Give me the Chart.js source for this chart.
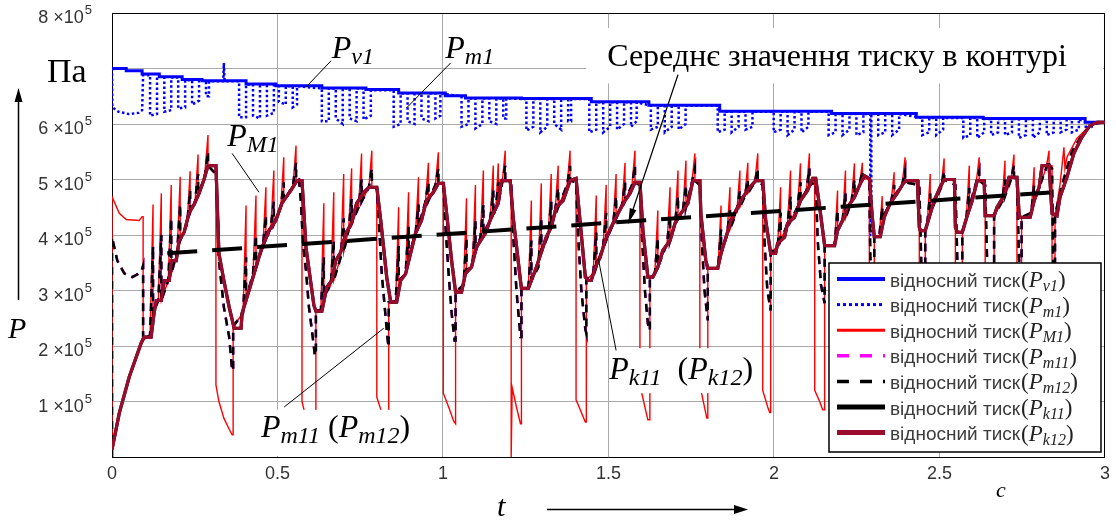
<!DOCTYPE html>
<html lang="uk">
<head>
<meta charset="utf-8">
<title>Тиск у контурі</title>
<script src="https://cdn.jsdelivr.net/npm/chart.js@4.4.1/dist/chart.umd.min.js"></script>
<style>
  html, body { margin: 0; padding: 0; background: #fff; }
  #wrap { position: relative; width: 1116px; height: 520px; }
</style>
</head>
<body>
<div id="wrap"><canvas id="chart" width="1116" height="520"></canvas></div>
<script>
// time in seconds, pressure in units of 10^5 Pa
const yTickLabels = [1, 2, 3, 4, 5, 6, 8];

// P_v1 – stepwise decay of the supply pressure
const pV1 = [[0,7.0],[0.043,6.96],[0.091,6.9],[0.143,6.85],[0.212,6.8],[0.272,6.78],[0.405,6.72],[0.495,6.69],
  [0.634,6.65],[0.767,6.62],[0.866,6.56],[1.007,6.51],[1.068,6.47],[1.237,6.46],[1.448,6.4],[1.622,6.34],
  [1.836,6.23],[2.174,6.19],[2.43,6.12],[2.632,6.1],[2.94,6.03],[3,6.03]];

// P_m1 – fast pulsations just below P_v1
const pm1 = [[0,7.0],[0.001,6.3],[0.02,6.22],[0.05,6.18],[0.08,6.2],[0.091,6.25],[0.094,6.88],
  [0.115,6.88],[0.115,6.15],[0.136,6.18],[0.136,6.86],[0.158,6.84],[0.158,6.22],[0.179,6.25],[0.179,6.84],[0.2,6.84],[0.2,6.28],[0.221,6.3],[0.221,6.79],[0.242,6.79],[0.242,6.35],[0.263,6.42],[0.263,6.79],[0.284,6.77],[0.284,6.5],[0.293,6.5],[0.293,6.77],
  [0.336,6.77],[0.338,7.1],[0.34,6.77],
  [0.384,6.77],[0.384,6.12],[0.405,6.12],[0.405,6.71],[0.426,6.71],[0.426,6.15],[0.447,6.1],[0.447,6.71],[0.468,6.71],[0.468,6.15],[0.489,6.2],[0.489,6.7],
  [0.504,6.68],[0.504,6.4],[0.525,6.35],[0.525,6.68],[0.546,6.68],[0.546,6.3],[0.559,6.35],[0.559,6.68],
  [0.634,6.64],[0.634,6.05],[0.655,6.05],[0.655,6.64],[0.676,6.64],[0.676,6.1],[0.697,6.0],[0.697,6.64],[0.718,6.64],[0.718,6.1],[0.739,6.05],[0.739,6.64],[0.76,6.64],[0.76,6.08],[0.782,6.15],[0.782,6.61],
  [0.851,6.61],[0.851,5.95],[0.872,6.0],[0.872,6.55],[0.893,6.55],[0.893,6.05],[0.914,6.0],[0.914,6.55],[0.935,6.55],[0.935,6.1],[0.956,6.05],[0.956,6.55],[0.977,6.55],[0.977,6.1],[0.992,6.15],[0.992,6.55],
  [1.056,6.5],[1.056,5.95],[1.077,6.0],[1.077,6.46],[1.098,6.46],[1.098,5.92],[1.119,6.0],[1.119,6.46],[1.14,6.46],[1.14,6.05],[1.161,6.0],[1.161,6.46],[1.182,6.46],[1.182,6.1],[1.191,6.1],[1.191,6.46],
  [1.252,6.45],[1.252,5.88],[1.273,5.95],[1.273,6.45],[1.294,6.45],[1.294,5.85],[1.315,5.95],[1.315,6.45],[1.336,6.45],[1.336,6.0],[1.357,5.9],[1.357,6.45],[1.378,6.45],[1.378,6.05],[1.387,6.05],[1.387,6.45],
  [1.442,6.45],[1.442,5.85],[1.463,5.9],[1.463,6.39],[1.484,6.39],[1.484,5.85],[1.505,5.95],[1.505,6.39],[1.526,6.39],[1.526,5.9],[1.547,6.0],[1.547,6.39],[1.568,6.39],[1.568,5.95],[1.585,6.05],[1.585,6.39],
  [1.628,6.33],[1.628,5.9],[1.649,5.95],[1.649,6.33],[1.67,6.33],[1.67,5.85],[1.691,5.95],[1.691,6.33],[1.712,6.33],[1.712,5.9],[1.733,6.0],[1.733,6.33],
  [1.83,6.33],[1.83,5.85],[1.851,5.9],[1.851,6.22],[1.872,6.22],[1.872,5.85],[1.893,5.95],[1.893,6.22],[1.914,6.22],[1.914,5.9],[1.935,5.95],[1.935,6.22],
  [1.999,6.22],[1.999,5.85],[2.02,5.9],[2.02,6.22],[2.041,6.22],[2.041,5.8],[2.062,5.9],[2.062,6.22],[2.083,6.22],[2.083,5.85],[2.104,5.95],[2.104,6.22],
  [2.165,6.22],[2.165,5.8],[2.186,5.85],[2.186,6.18],[2.207,6.18],[2.207,5.8],[2.228,5.9],[2.228,6.18],[2.249,6.18],[2.249,5.8],[2.27,5.85],[2.27,6.18],[2.291,6.18],[2.291,4.0],[2.294,4.0],[2.294,6.18],[2.315,6.18],[2.315,5.8],[2.336,5.85],[2.336,6.18],[2.357,6.18],[2.357,5.8],[2.378,5.9],[2.378,6.18],
  [2.448,6.11],[2.448,5.8],[2.469,5.85],[2.469,6.11],[2.49,6.11],[2.49,5.8],[2.511,5.9],[2.511,6.11],
  [2.572,6.11],[2.572,5.75],[2.593,5.8],[2.593,6.11],[2.614,6.11],[2.614,5.75],[2.635,5.85],[2.635,6.09],[2.656,6.09],[2.656,5.8],[2.677,5.85],[2.677,6.09],[2.698,6.09],[2.698,5.8],[2.719,5.85],[2.719,6.09],
  [2.74,6.09],[2.74,5.75],[2.761,5.8],[2.761,6.09],[2.782,6.09],[2.782,5.75],[2.803,5.85],[2.803,6.09],[2.824,6.09],[2.824,5.8],[2.845,5.85],[2.845,6.09],[2.866,6.09],[2.866,5.85],[2.884,5.9],[2.884,6.09],
  [2.9,6.09],[2.9,5.85],[2.921,5.9],[2.921,6.09],[2.942,6.03],[2.942,5.9],[2.96,5.95],[2.96,6.03],
  [3,6.03]];

// P_M1 – pressure peaks with deep dips once per cycle
const pM1 = [[0,0],[0,4.69],[0.022,4.39],[0.043,4.28],[0.082,4.26],[0.091,4.33],[0.094,4.33],[0.094,2.1],
  [0.115,2.2],[0.124,4.55],[0.124,2.59],[0.14,2.82],[0.149,4.75],[0.149,2.82],[0.17,3.18],[0.179,4.9],[0.179,3.3],[0.197,3.7],[0.206,5.05],[0.206,3.9],[0.227,4.2],[0.236,5.15],[0.236,4.4],[0.251,4.6],[0.26,5.45],[0.26,4.75],[0.279,5.0],[0.29,5.8],[0.29,5.25],
  [0.314,5.25],[0.314,1.3],[0.323,1.0],[0.338,0.7],[0.354,0.5],[0.363,0.4],[0.366,0.4],[0.366,2.35],
  [0.396,2.6],[0.405,4.53],[0.405,2.85],[0.426,3.3],[0.435,4.71],[0.435,3.42],[0.456,3.8],[0.465,4.86],[0.465,3.9],[0.48,4.15],[0.489,5.16],[0.489,4.2],[0.51,4.5],[0.519,5.4],[0.519,4.6],[0.547,4.9],[0.556,5.61],[0.556,4.98],
  [0.574,4.98],[0.574,1.0],[0.586,0.7],[0.61,0.5],[0.616,0.5],[0.616,2.63],
  [0.631,2.65],[0.64,4.57],[0.64,2.9],[0.661,3.1],[0.67,4.77],[0.67,3.18],[0.691,3.6],[0.7,5.1],[0.7,3.69],[0.715,4.1],[0.724,5.2],[0.724,4.21],[0.745,4.5],[0.754,5.47],[0.754,4.6],[0.776,4.86],[0.785,5.52],[0.785,4.86],
  [0.8,4.86],[0.8,1.08],[0.815,0.8],[0.83,0.55],[0.836,0.55],[0.836,2.79],
  [0.857,2.8],[0.866,4.5],[0.866,3.18],[0.887,3.3],[0.896,4.77],[0.896,3.6],[0.917,4.03],[0.926,5.04],[0.926,4.15],[0.947,4.6],[0.956,5.3],[0.956,4.62],[0.977,4.9],[0.986,5.49],[0.986,4.93],
  [1.001,4.93],[1.001,1.15],[1.017,0.9],[1.032,0.65],[1.038,0.6],[1.038,2.97],
  [1.062,3.1],[1.071,4.66],[1.071,3.35],[1.089,3.45],[1.098,4.9],[1.098,3.7],[1.113,3.95],[1.122,5.16],[1.122,4.0],[1.143,4.3],[1.152,5.25],[1.152,4.35],[1.16,4.5],[1.167,5.29],[1.167,4.57],[1.179,4.95],[1.188,5.52],[1.188,4.98],
  [1.206,4.98],[1.206,0],[1.209,1.25],[1.222,0.9],[1.234,0.6],[1.237,0.6],[1.237,3.04],
  [1.258,3.05],[1.267,4.62],[1.267,3.18],[1.288,3.42],[1.297,4.93],[1.297,3.69],[1.318,4.0],[1.327,5.1],[1.327,4.14],[1.339,4.45],[1.348,5.25],[1.348,4.5],[1.375,4.9],[1.384,5.52],[1.384,4.98],
  [1.402,5.0],[1.402,1.03],[1.418,0.8],[1.43,0.63],[1.433,0.63],[1.433,3.2],
  [1.454,3.3],[1.463,4.71],[1.463,3.42],[1.484,3.8],[1.493,4.9],[1.493,3.9],[1.514,4.2],[1.523,5.1],[1.523,4.3],[1.541,4.55],[1.55,5.3],[1.55,4.62],[1.571,4.9],[1.58,5.52],[1.58,4.95],
  [1.595,4.95],[1.595,1.3],[1.61,0.9],[1.619,0.67],[1.625,0.67],[1.625,3.24],
  [1.64,3.3],[1.649,4.44],[1.649,3.42],[1.677,3.85],[1.686,4.86],[1.686,3.9],[1.701,4.21],[1.71,5.16],[1.71,4.3],[1.725,4.45],[1.734,5.34],[1.734,4.5],[1.752,4.95],[1.761,5.47],[1.761,4.98],
  [1.776,4.98],[1.776,1.3],[1.79,0.9],[1.797,0.7],[1.8,0.7],[1.8,3.4],
  [1.831,3.4],[1.84,4.53],[1.84,3.67],[1.858,4.0],[1.867,4.86],[1.867,4.1],[1.888,4.44],[1.897,5.16],[1.897,4.5],[1.912,4.7],[1.921,5.3],[1.921,4.75],[1.942,4.95],[1.951,5.47],[1.951,4.98],
  [1.966,4.98],[1.966,1.2],[1.981,0.9],[1.987,0.8],[1.99,0.8],[1.99,3.67],
  [2.011,3.8],[2.02,4.86],[2.02,3.9],[2.041,4.2],[2.05,5.16],[2.05,4.25],[2.071,4.5],[2.08,5.29],[2.08,4.62],[2.098,4.8],[2.107,5.47],[2.107,4.9],
  [2.123,5.0],[2.123,1.2],[2.138,1.0],[2.147,0.85],[2.153,0.85],[2.153,3.81],
  [2.183,3.81],[2.192,4.8],[2.192,4.08],[2.207,4.26],[2.216,5.16],[2.216,4.3],[2.234,4.6],[2.243,5.29],[2.243,4.68],[2.258,4.89],[2.267,5.3],[2.267,5.0],
  [2.288,5.02],[2.288,1.2],[2.297,0.9],[2.303,0.9],[2.303,3.97],
  [2.318,3.97],[2.327,4.7],[2.327,4.3],[2.354,4.6],[2.363,5.13],[2.363,4.7],[2.387,4.9],[2.396,5.4],[2.396,4.95],
  [2.439,4.98],[2.439,1.0],[2.45,0.8],[2.457,0.8],[2.457,4.08],
  [2.463,4.2],[2.472,5.1],[2.472,4.4],[2.505,4.86],[2.514,5.38],[2.514,5.0],
  [2.548,5.0],[2.548,1.0],[2.56,0.8],[2.569,0.8],[2.569,4.05],
  [2.581,4.3],[2.59,5.25],[2.59,4.5],[2.611,4.95],[2.62,5.4],[2.62,4.98],
  [2.638,4.98],[2.638,1.0],[2.655,0.85],[2.665,0.85],[2.665,4.35],
  [2.689,4.6],[2.698,5.34],[2.698,4.7],[2.716,5.0],[2.725,5.45],[2.725,5.04],
  [2.734,5.04],[2.734,1.0],[2.745,0.8],[2.748,0.8],[2.748,4.32],
  [2.777,4.4],[2.786,5.22],[2.786,4.62],[2.822,5.2],[2.831,5.52],[2.831,5.25],
  [2.84,5.25],[2.84,1.0],[2.846,0.9],[2.849,0.9],[2.849,4.35],
  [2.864,4.9],[2.876,5.58],[2.879,5.2],[2.885,5.4],[2.915,5.74],[2.945,5.92],[2.976,6.03],[3,6.03]];

// P_m12 – chamber pressure; P_m11 runs on the same curve
const pm12 = [[0,0],[0,3.96],[0.016,3.54],[0.037,3.31],[0.061,3.24],[0.088,3.33],[0.094,3.45],[0.094,2.1],
  [0.115,2.2],[0.124,3.8],[0.124,2.59],[0.14,2.82],[0.149,4.0],[0.149,2.82],[0.17,3.18],[0.179,4.3],[0.179,3.3],[0.197,3.7],[0.206,4.55],[0.206,3.9],[0.227,4.2],[0.236,4.8],[0.236,4.4],[0.251,4.6],[0.26,5.1],[0.26,4.75],[0.279,5.0],[0.29,5.5],[0.29,5.25],
  [0.314,5.1],[0.32,4.26],[0.323,3.54],[0.338,2.7],[0.354,2.16],[0.363,1.56],[0.366,1.56],[0.366,2.35],
  [0.396,2.6],[0.405,3.6],[0.405,2.85],[0.426,3.3],[0.435,4.0],[0.435,3.42],[0.456,3.8],[0.465,4.35],[0.465,3.9],[0.48,4.15],[0.489,4.6],[0.489,4.2],[0.51,4.5],[0.519,4.95],[0.519,4.6],[0.547,4.9],[0.556,5.3],[0.556,4.98],
  [0.565,5.0],[0.571,4.57],[0.577,3.85],[0.586,3.36],[0.595,2.7],[0.604,2.28],[0.613,1.83],[0.616,1.83],[0.616,2.63],
  [0.631,2.65],[0.64,3.6],[0.64,2.9],[0.661,3.1],[0.67,3.9],[0.67,3.18],[0.691,3.6],[0.7,4.3],[0.7,3.69],[0.715,4.1],[0.724,4.65],[0.724,4.21],[0.745,4.5],[0.754,5.0],[0.754,4.6],[0.776,4.86],[0.785,5.2],[0.785,4.86],
  [0.8,4.86],[0.806,4.26],[0.815,3.3],[0.824,2.7],[0.833,2.1],[0.836,1.98],[0.836,2.79],
  [0.857,2.8],[0.866,3.8],[0.866,3.18],[0.887,3.3],[0.896,4.15],[0.896,3.6],[0.917,4.03],[0.926,4.55],[0.926,4.15],[0.947,4.6],[0.956,4.95],[0.956,4.62],[0.977,4.9],[0.986,5.2],[0.986,4.93],
  [1.001,4.9],[1.007,4.2],[1.017,3.3],[1.026,2.6],[1.035,2.1],[1.038,2.1],[1.038,2.97],
  [1.062,3.1],[1.071,3.95],[1.071,3.35],[1.089,3.45],[1.098,4.25],[1.098,3.7],[1.113,3.95],[1.122,4.55],[1.122,4.0],[1.143,4.3],[1.152,4.8],[1.152,4.35],[1.16,4.5],[1.167,4.95],[1.167,4.57],[1.179,4.95],[1.188,5.25],[1.188,4.98],
  [1.206,4.9],[1.212,4.0],[1.222,3.0],[1.234,2.16],[1.237,2.16],[1.237,3.04],
  [1.258,3.05],[1.267,3.9],[1.267,3.18],[1.288,3.42],[1.297,4.3],[1.297,3.69],[1.318,4.0],[1.327,4.6],[1.327,4.14],[1.339,4.45],[1.348,4.85],[1.348,4.5],[1.375,4.9],[1.384,5.25],[1.384,4.98],
  [1.402,4.95],[1.408,4.0],[1.418,3.0],[1.43,2.3],[1.433,2.23],[1.433,3.2],
  [1.454,3.3],[1.463,4.05],[1.463,3.42],[1.484,3.8],[1.493,4.4],[1.493,3.9],[1.514,4.2],[1.523,4.7],[1.523,4.3],[1.541,4.55],[1.55,4.95],[1.55,4.62],[1.571,4.9],[1.58,5.25],[1.58,4.95],
  [1.595,4.9],[1.601,4.0],[1.61,3.0],[1.619,2.4],[1.625,2.28],[1.625,3.24],
  [1.64,3.3],[1.649,3.95],[1.649,3.42],[1.677,3.85],[1.686,4.35],[1.686,3.9],[1.701,4.21],[1.71,4.7],[1.71,4.3],[1.725,4.45],[1.734,4.9],[1.734,4.5],[1.752,4.95],[1.761,5.2],[1.761,4.98],
  [1.776,4.9],[1.782,3.9],[1.79,3.0],[1.8,2.46],[1.8,3.4],
  [1.831,3.4],[1.84,4.1],[1.84,3.67],[1.858,4.0],[1.867,4.45],[1.867,4.1],[1.888,4.44],[1.897,4.8],[1.897,4.5],[1.912,4.7],[1.921,5.0],[1.921,4.75],[1.942,4.95],[1.951,5.2],[1.951,4.98],
  [1.966,4.9],[1.972,3.8],[1.98,3.0],[1.99,2.64],[1.99,3.67],
  [2.011,3.8],[2.02,4.4],[2.02,3.9],[2.041,4.2],[2.05,4.7],[2.05,4.25],[2.071,4.5],[2.08,4.95],[2.08,4.62],[2.098,4.8],[2.107,5.2],[2.107,4.9],
  [2.126,4.95],[2.132,3.9],[2.142,3.1],[2.153,2.77],[2.153,3.81],
  [2.183,3.81],[2.192,4.45],[2.192,4.08],[2.207,4.26],[2.216,4.75],[2.216,4.3],[2.234,4.6],[2.243,5.0],[2.243,4.68],[2.258,4.89],[2.267,5.15],[2.267,5.0],
  [2.288,4.95],[2.291,3.6],[2.3,2.9],[2.303,2.9],[2.303,3.97],
  [2.318,3.97],[2.327,4.5],[2.327,4.3],[2.354,4.6],[2.363,4.9],[2.363,4.7],[2.387,4.9],[2.396,5.15],[2.396,4.95],
  [2.439,4.9],[2.445,3.5],[2.457,2.9],[2.457,4.08],
  [2.463,4.2],[2.472,4.75],[2.472,4.4],[2.505,4.86],[2.514,5.15],[2.514,5.0],
  [2.548,4.9],[2.554,3.5],[2.569,3.0],[2.569,4.05],
  [2.581,4.3],[2.59,4.85],[2.59,4.5],[2.611,4.95],[2.62,5.15],[2.62,4.98],
  [2.638,4.9],[2.644,3.5],[2.665,3.0],[2.665,4.35],
  [2.689,4.6],[2.698,5.0],[2.698,4.7],[2.716,5.0],[2.725,5.25],[2.725,5.04],
  [2.734,5.0],[2.74,3.6],[2.748,3.0],[2.748,4.32],
  [2.777,4.4],[2.786,4.9],[2.786,4.62],[2.822,5.2],[2.831,5.35],[2.831,5.25],
  [2.84,5.2],[2.843,3.6],[2.849,3.0],[2.849,4.35],
  [2.87,4.9],[2.9,5.5],[2.93,5.8],[2.96,6.0],[3,6.03]];
const pm11 = pm12;

// P_k12 – smoothed circuit pressure; P_k11 runs on the same curve
const pk12 = [[0,0.13],[0.022,0.79],[0.052,1.44],[0.088,2.05],[0.097,2.16],[0.118,2.16],[0.127,2.59],[0.134,2.82],[0.149,2.82],[0.158,3.18],[0.173,3.18],[0.179,3.54],[0.194,3.54],[0.203,3.9],[0.218,4.05],[0.233,4.4],[0.248,4.55],[0.263,4.75],[0.278,5.0],[0.29,5.25],[0.314,5.25],
  [0.323,3.67],[0.338,3.18],[0.354,2.7],[0.369,2.32],[0.39,2.32],
  [0.393,2.59],[0.414,3.0],[0.435,3.42],[0.45,3.72],[0.474,4.08],[0.495,4.26],[0.513,4.57],[0.54,4.8],[0.559,4.98],[0.574,4.98],
  [0.586,3.78],[0.61,2.73],[0.616,2.63],[0.634,2.63],
  [0.649,3.06],[0.664,3.18],[0.676,3.54],[0.691,3.69],[0.706,4.03],[0.724,4.21],[0.739,4.57],[0.761,4.77],[0.776,4.86],[0.8,4.86],
  [0.812,4.26],[0.83,3.24],[0.842,2.79],[0.86,2.79],
  [0.872,3.18],[0.887,3.3],[0.902,3.67],[0.917,4.03],[0.935,4.26],[0.95,4.62],[0.971,4.77],[0.986,4.93],[1.001,4.93],
  [1.011,4.39],[1.026,3.54],[1.038,2.97],[1.056,2.97],
  [1.068,3.31],[1.086,3.42],[1.101,3.78],[1.128,4.03],[1.146,4.32],[1.167,4.57],[1.176,4.98],[1.203,4.98],
  [1.212,4.32],[1.234,3.18],[1.237,3.04],[1.258,3.04],
  [1.267,3.18],[1.282,3.42],[1.297,3.69],[1.312,3.96],[1.327,4.14],[1.342,4.5],[1.363,4.62],[1.384,4.98],[1.402,5.02],
  [1.414,4.26],[1.43,3.24],[1.439,3.18],[1.448,3.18],
  [1.46,3.42],[1.475,3.6],[1.49,3.9],[1.508,4.14],[1.529,4.39],[1.55,4.62],[1.565,4.75],[1.58,4.95],[1.595,4.95],
  [1.604,4.08],[1.619,3.24],[1.634,3.24],
  [1.649,3.42],[1.664,3.72],[1.686,3.9],[1.701,4.21],[1.719,4.39],[1.74,4.57],[1.755,4.98],[1.776,4.98],
  [1.779,4.39],[1.794,3.54],[1.8,3.4],[1.83,3.4],
  [1.84,3.67],[1.855,3.96],[1.87,4.26],[1.885,4.44],[1.906,4.68],[1.927,4.86],[1.945,4.98],[1.966,4.98],
  [1.975,4.26],[1.99,3.67],[2.005,3.67],
  [2.011,3.85],[2.032,3.96],[2.041,4.21],[2.062,4.32],[2.08,4.62],[2.101,4.8],[2.117,5.02],[2.126,5.02],
  [2.138,4.5],[2.153,3.81],[2.183,3.81],
  [2.192,4.08],[2.207,4.26],[2.222,4.5],[2.243,4.68],[2.258,4.89],[2.273,5.07],[2.288,5.02],
  [2.297,4.32],[2.303,3.97],[2.321,3.97],
  [2.333,4.32],[2.351,4.57],[2.372,4.75],[2.393,4.95],[2.403,4.98],[2.433,4.98],
  [2.439,4.14],[2.442,4.08],[2.457,4.08],
  [2.469,4.32],[2.484,4.62],[2.502,4.86],[2.514,5.0],[2.545,5.0],
  [2.548,4.14],[2.554,4.05],[2.569,4.05],
  [2.584,4.35],[2.599,4.62],[2.614,4.98],[2.635,4.98],
  [2.638,4.35],[2.665,4.35],
  [2.674,4.5],[2.695,4.71],[2.71,5.04],[2.734,5.04],
  [2.741,4.32],[2.774,4.32],
  [2.786,4.62],[2.801,4.86],[2.81,5.25],[2.831,5.25],
  [2.84,4.39],[2.855,4.35],
  [2.864,4.68],[2.885,5.04],[2.906,5.47],[2.93,5.76],[2.954,5.97],[2.976,6.03],[3,6.03]];
const pk11 = pk12;

// mean circuit pressure trend
const pMean = [[0.167,3.67],[2.864,4.78]];

const serif = '"Liberation Serif", "Times New Roman", serif';
const sans = '"Liberation Sans", Arial, sans-serif';
const xy = arr => arr.map(([x, y]) => ({ x, y }));

// in-plot callouts, anchored in data coordinates
const callouts = [
  { at: [0.664, 7.19], parts: [['P', 'v1']], line: [[0.662, 7.14], [0.587, 6.67]] },
  { at: [1.007, 7.19], parts: [['P', 'm1']], line: [[1.023, 7.10], [0.89, 6.29]] },
  { at: [0.348, 5.61], parts: [['P', 'M1']], line: [[0.363, 5.47], [0.444, 4.77]] },
  { at: [0.45, 0.36], parts: [['P', 'm11'], ' (', ['P', 'm12'], ')'], line: [[0.52, 0.9], [0.821, 2.32]],
    box: [0.435, 0.903, 0.02, 0.85] },
  { at: [1.502, 1.40], parts: [['P', 'k11'], '  (', ['P', 'k12'], ')'], line: [[1.523, 1.92], [1.469, 3.58]],
    box: [1.506, 1.942, 1.15, 1.96] }
];
const meanNote = { text: 'Середнє значення тиску в контурі', at: [1.496, 7.05],
  box: [1.432, 2.994, 6.73, 7.73], arrow: [[1.71, 6.89], [1.56, 4.21]] };
const legendOrder = ['v1', 'm1', 'M1', 'm11', 'm12', 'k11', 'k12'];

function drawTerm(ctx, x, y, parts, size, subSize, drop) {
  parts.forEach(p => {
    if (typeof p === 'string') {
      ctx.font = `${size}px ${serif}`;
      ctx.fillText(p, x, y);
      x += ctx.measureText(p).width;
    } else {
      ctx.font = `italic ${size}px ${serif}`;
      ctx.fillText(p[0], x, y);
      x += ctx.measureText(p[0]).width;
      ctx.font = `italic ${subSize}px ${serif}`;
      ctx.fillText(p[1], x, y + drop);
      x += ctx.measureText(p[1]).width;
    }
  });
  return x;
}

function arrowHead(ctx, x0, y0, x1, y1, len, half) {
  const a = Math.atan2(y1 - y0, x1 - x0);
  ctx.beginPath();
  ctx.moveTo(x1, y1);
  ctx.lineTo(x1 - len * Math.cos(a) + half * Math.sin(a), y1 - len * Math.sin(a) - half * Math.cos(a));
  ctx.lineTo(x1 - len * Math.cos(a) - half * Math.sin(a), y1 - len * Math.sin(a) + half * Math.cos(a));
  ctx.closePath();
  ctx.fill();
}

const overlay = {
  id: 'overlay',
  beforeDatasetsDraw(chart) {
    const { ctx, chartArea: a } = chart;
    ctx.save();
    ctx.strokeStyle = '#000';
    ctx.lineWidth = 1;
    ctx.beginPath();
    ctx.moveTo(a.left, a.top + 0.5);
    ctx.lineTo(a.right - 0.5, a.top + 0.5);
    ctx.lineTo(a.right - 0.5, a.bottom);
    ctx.stroke();
    ctx.restore();
  },
  afterDatasetsDraw(chart) {
    const { ctx, chartArea: a, scales } = chart;
    const X = v => scales.x.getPixelForValue(v);
    const Y = v => scales.y.getPixelForValue(v);
    ctx.save();

    // white backgrounds behind the text blocks
    ctx.fillStyle = '#fff';
    [...callouts.filter(c => c.box).map(c => c.box), meanNote.box].forEach(b => {
      ctx.fillRect(X(b[0]), Y(b[3]), X(b[1]) - X(b[0]), Y(b[2]) - Y(b[3]));
    });

    // leader lines
    ctx.strokeStyle = '#000';
    ctx.lineWidth = 1;
    callouts.forEach(c => {
      ctx.beginPath();
      ctx.moveTo(X(c.line[0][0]), Y(c.line[0][1]));
      ctx.lineTo(X(c.line[1][0]), Y(c.line[1][1]));
      ctx.stroke();
    });
    ctx.fillStyle = '#000';
    callouts.forEach(c => drawTerm(ctx, X(c.at[0]), Y(c.at[1]), c.parts, 32, 24, 6));

    // mean pressure note with arrow
    ctx.font = `32px ${serif}`;
    ctx.fillText(meanNote.text, X(meanNote.at[0]), Y(meanNote.at[1]));
    const [p0, p1] = meanNote.arrow;
    ctx.lineWidth = 1.3;
    ctx.beginPath();
    ctx.moveTo(X(p0[0]), Y(p0[1]));
    ctx.lineTo(X(p1[0]), Y(p1[1]));
    ctx.stroke();
    arrowHead(ctx, X(p0[0]), Y(p0[1]), X(p1[0]), Y(p1[1]), 15, 3.5);

    // legend box
    const rows = chart.data.datasets.filter(d => d.sub)
      .sort((p, q) => legendOrder.indexOf(p.sub) - legendOrder.indexOf(q.sub));
    const w = 272, h = 189;
    const lx = a.right - 4 - w, ly = a.bottom - 5 - h;
    ctx.fillStyle = '#fff';
    ctx.fillRect(lx, ly, w, h);
    ctx.strokeStyle = '#000';
    ctx.lineWidth = 1.5;
    ctx.strokeRect(lx, ly, w, h);
    rows.forEach((d, i) => {
      const y = ly + 16 + i * 25.6;
      ctx.beginPath();
      ctx.setLineDash(d.legendDash || []);
      ctx.strokeStyle = d.borderColor;
      ctx.lineWidth = d.legendWidth;
      ctx.moveTo(lx + 8, y);
      ctx.lineTo(lx + 56, y);
      ctx.stroke();
      ctx.setLineDash([]);
      ctx.fillStyle = '#3c3c3c';
      ctx.font = `19px ${sans}`;
      ctx.fillText(d.label, lx + 61, y + 7.5);
      const tx = lx + 61 + ctx.measureText(d.label).width + 1;
      ctx.fillStyle = '#222';
      drawTerm(ctx, tx, y + 8, ['(', ['P', d.sub], ')'], 23, 16, 4);
    });
    ctx.restore();
  },
  afterDraw(chart) {
    const { ctx, scales } = chart;
    const Y = v => scales.y.getPixelForValue(v);
    ctx.save();
    ctx.fillStyle = '#333';
    ctx.textBaseline = 'alphabetic';
    // y tick labels: "n ×10^5"
    yTickLabels.forEach(v => {
      const y = Y(v);
      ctx.font = `13px ${sans}`;
      const sw = ctx.measureText('5').width;
      ctx.font = `18px ${sans}`;
      const main = `${v} \u00d710`;
      const mw = ctx.measureText(main).width;
      const right = 92;
      ctx.fillText(main, right - sw - 1 - mw, y + 10);
      ctx.font = `13px ${sans}`;
      ctx.fillText('5', right - sw, y + 1);
    });

    // axis titles and arrows
    ctx.fillStyle = '#000';
    ctx.strokeStyle = '#000';
    ctx.font = `34px ${serif}`;
    ctx.fillText('Па', 47, 82);
    ctx.font = `italic 30px ${serif}`;
    ctx.fillText('P', 8, 338);
    ctx.fillText('t', 497, 516);
    ctx.font = `italic 22px ${serif}`;
    ctx.fillText('c', 996, 497);

    ctx.lineWidth = 1.5;
    ctx.beginPath();
    ctx.moveTo(18.5, 300);
    ctx.lineTo(18.5, 100);
    ctx.stroke();
    arrowHead(ctx, 18.5, 300, 18.5, 88, 14, 4);
    ctx.beginPath();
    ctx.moveTo(547, 509.5);
    ctx.lineTo(736, 509.5);
    ctx.stroke();
    arrowHead(ctx, 547, 509.5, 748, 509.5, 14, 4.5);
    ctx.restore();
  }
};

new Chart(document.getElementById('chart'), {
  type: 'line',
  data: {
    datasets: [
      { label: 'mean', data: xy(pMean), borderColor: '#000', borderWidth: 4, borderDash: [30, 15], order: 0 },
      { label: 'відносний тиск', sub: 'k12', data: xy(pk12), borderColor: '#9b0b2b', borderWidth: 3.2,
        legendWidth: 5, order: 1 },
      { label: 'відносний тиск', sub: 'k11', data: xy(pk11), borderColor: '#000', borderWidth: 3.2,
        legendWidth: 5, order: 2 },
      { label: 'відносний тиск', sub: 'm12', data: xy(pm12), borderColor: '#000', borderWidth: 2.5,
        borderDash: [8, 6], legendWidth: 3.5, legendDash: [12, 11], order: 3 },
      { label: 'відносний тиск', sub: 'm11', data: xy(pm11), borderColor: '#ff00ff', borderWidth: 2.5,
        borderDash: [8, 6], legendWidth: 3.5, legendDash: [12, 11], order: 4 },
      { label: 'відносний тиск', sub: 'M1', data: xy(pM1), borderColor: '#ff0000', borderWidth: 1.4,
        legendWidth: 3, order: 5 },
      { label: 'відносний тиск', sub: 'm1', data: xy(pm1), borderColor: '#0000ff', borderWidth: 2.5,
        borderDash: [2.5, 2.5], legendWidth: 3, legendDash: [3, 3], order: 6 },
      { label: 'відносний тиск', sub: 'v1', data: xy(pV1), borderColor: '#0000ff', borderWidth: 3,
        stepped: true, legendWidth: 4, order: 7 }
    ].map(d => Object.assign(d, { pointRadius: 0, fill: false, tension: 0 }))
  },
  options: {
    responsive: false,
    animation: false,
    devicePixelRatio: 1,
    parsing: false,
    events: [],
    layout: { padding: { top: 13, right: 8, left: 0, bottom: 0 } },
    plugins: { legend: { display: false }, tooltip: { enabled: false } },
    scales: {
      x: {
        type: 'linear', min: 0, max: 3,
        afterFit: s => { s.height = 63; },
        ticks: { stepSize: 0.5, color: '#333', font: { family: sans, size: 18 }, padding: 6, maxRotation: 0,
          autoSkip: false, callback: v => String(Math.round(v * 10) / 10) },
        grid: { color: '#a9a9a9', lineWidth: 1, drawTicks: false },
        border: { color: '#000', width: 1 }
      },
      y: {
        type: 'linear', min: 0, max: 8,
        afterFit: s => { s.width = 112; },
        ticks: { stepSize: 1, display: false },
        grid: { color: '#a9a9a9', lineWidth: 1, drawTicks: false },
        border: { color: '#000', width: 1 }
      }
    }
  },
  plugins: [overlay]
});
</script>
</body>
</html>
